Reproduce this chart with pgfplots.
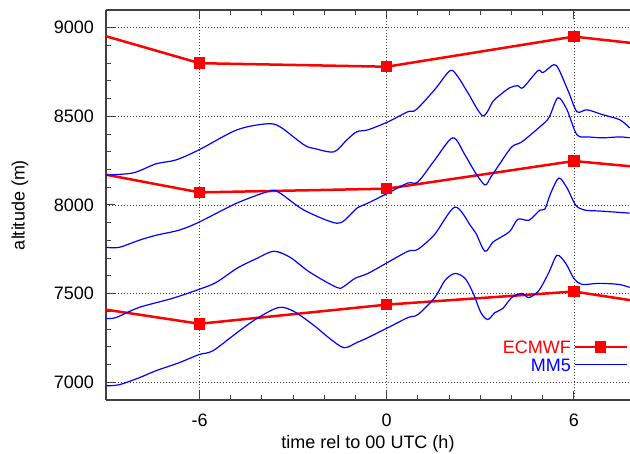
\documentclass[border=0pt]{standalone}
\usepackage{fontspec}
\setmainfont{Liberation Sans}
\usepackage{pgfplots}
\pgfplotsset{compat=1.18}

\definecolor{ecred}{RGB}{255,0,0}
\definecolor{mmblue}{RGB}{0,0,255}
\definecolor{axgray}{RGB}{64,64,64}
\newcommand{\fs}{\fontsize{18}{21}\selectfont}

\begin{document}
\begin{tikzpicture}
\useasboundingbox (-106pt,-54pt) rectangle (524pt,400pt);
\begin{axis}[
    scale only axis,
    width=524pt, height=390pt,
    xmin=-9, xmax=7.8, ymin=6900, ymax=9100,
    separate axis lines,
    axis x line*=box, axis y line*=left,
    axis line style={axgray, line width=1.2pt, -},
    y axis line style={-},
    xtick={-6,0,6}, xticklabels={-6,0,6},
    ytick={7000,7500,8000,8500,9000},
    yticklabels={7000,7500,8000,8500,9000},
    minor x tick num=5, minor y tick num=4,
    tick align=inside,
    major tick length=9pt, minor tick length=5pt,
    every tick/.style={axgray, line width=1pt},
    grid=major,
    major grid style={black!75, line width=0.7pt, dash pattern=on 1pt off 2pt},
    tick label style={font=\fs},
    xticklabel style={anchor=center, inner sep=0pt, yshift=-20pt},
    yticklabel style={anchor=east, inner sep=0pt, xshift=-12pt},
    xlabel={time rel to 00 UTC (h)},
    ylabel={altitude (m)},
    label style={font=\fs},
    xlabel style={at={(axis description cs:0.5,-0.112)}, anchor=center},
    ylabel style={at={(axis description cs:-0.164,0.5)}, anchor=center},
    legend plot pos=right,
    legend cell align=right,
    legend style={draw=none, fill=none, font=\fs, at={(1,0)}, anchor=south east,
        xshift=-2pt, yshift=26pt, inner sep=0pt,
        nodes={font=\fs, inner sep=2.5pt, text height=13pt, text depth=0pt}},
    legend image code/.code={\draw[mark repeat=2,mark phase=2,#1]
        plot coordinates {(0pt,0pt) (26pt,0pt) (52pt,0pt)};},
]

% ECMWF
\addplot[color=ecred, line width=2.5pt, mark=square*, mark size=4.5pt,
    mark options={solid}] coordinates {
    (-12,9104) (-6,8800) (0,8780) (6,8950) (12,8833)
};
\addlegendentry{\textcolor{ecred}{\fs ECMWF}}
\addplot[color=ecred, line width=2.5pt, mark=square*, mark size=4.5pt, forget plot] coordinates {
    (-12,8271) (-6,8071) (0,8092) (6,8248) (12,8150)
};
\addplot[color=ecred, line width=2.5pt, mark=square*, mark size=4.5pt, forget plot] coordinates {
    (-12,7489) (-6,7330) (0,7438) (6,7512) (12,7350)
};

% MM5
\addplot[color=mmblue, line width=1.2pt, smooth, tension=0.5] coordinates {
    (-9.00,8169) (-8.13,8181) (-7.40,8232) (-6.76,8254) (-6.02,8311) (-4.80,8424)
    (-3.84,8458) (-3.42,8441) (-2.65,8339) (-2.30,8318) (-1.69,8300) (-1.28,8367)
    (-0.96,8413) (-0.60,8424) (0.04,8469) (0.68,8526) (0.94,8537) (1.54,8651)
    (2.03,8758) (2.28,8724) (2.60,8634) (3.08,8503) (3.40,8583) (3.60,8616)
    (3.95,8662) (4.21,8673) (4.37,8662) (4.85,8758) (5.01,8747) (5.36,8792)
    (5.52,8764) (5.84,8634) (6.10,8526) (6.42,8537) (6.93,8509) (7.47,8481) (7.79,8435)
};
\addlegendentry{\textcolor{mmblue}{\fs MM5}}
\addplot[color=mmblue, line width=1.2pt, smooth, tension=0.5, forget plot] coordinates {
    (-9.00,7761) (-8.58,7761) (-7.94,7801) (-7.40,7829) (-6.66,7858) (-6.02,7903)
    (-4.80,8011) (-3.74,8079) (-3.42,8067) (-2.65,7971) (-1.60,7897) (-1.18,7943)
    (-0.96,7982) (-0.60,8011) (0.04,8067) (0.68,8124) (1.00,8130) (1.54,8254)
    (2.12,8379) (2.51,8282) (2.83,8186) (3.15,8113) (3.34,8158) (3.60,8226)
    (4.01,8328) (4.33,8356) (4.91,8441) (5.20,8492) (5.49,8605) (5.78,8537)
    (6.10,8396) (6.48,8384) (6.93,8379) (7.47,8384) (7.79,8379)
};
\addplot[color=mmblue, line width=1.2pt, smooth, tension=0.5, forget plot] coordinates {
    (-9.00,7360) (-8.68,7365) (-7.94,7422) (-6.88,7473) (-6.02,7524) (-5.47,7563)
    (-4.80,7643) (-4.16,7699) (-3.62,7739) (-3.10,7705) (-2.46,7620) (-1.60,7535)
    (-1.37,7541) (-1.02,7586) (-0.60,7614) (0.04,7677) (0.68,7739) (1.00,7750)
    (1.54,7835) (2.19,7988) (2.70,7880) (2.86,7841) (3.15,7739) (3.40,7790)
    (3.60,7812) (3.95,7852) (4.21,7920) (4.56,7914) (4.91,7971) (5.07,7977)
    (5.26,8067) (5.52,8152) (5.78,8096) (6.06,7999) (6.35,7971) (6.83,7966) (7.79,7954)
};
\addplot[color=mmblue, line width=1.2pt, smooth, tension=0.5, forget plot] coordinates {
    (-9.00,6980) (-8.58,6986) (-7.94,7025) (-7.40,7065) (-6.66,7110) (-6.02,7156)
    (-5.57,7178) (-4.80,7280) (-4.16,7360) (-3.46,7422) (-2.97,7399) (-2.33,7320)
    (-1.82,7246) (-1.37,7195) (-0.96,7224) (-0.60,7252) (0.04,7308) (0.68,7365)
    (1.00,7382) (1.54,7478) (1.87,7575) (2.19,7614) (2.51,7586) (2.76,7507)
    (3.02,7393) (3.24,7354) (3.47,7393) (3.72,7416) (4.01,7478) (4.33,7501)
    (4.56,7478) (4.88,7518) (5.20,7620) (5.46,7716) (5.74,7671) (6.00,7586)
    (6.26,7552) (6.80,7558) (7.44,7552) (7.79,7535)
};
\end{axis}
\end{tikzpicture}
\end{document}
